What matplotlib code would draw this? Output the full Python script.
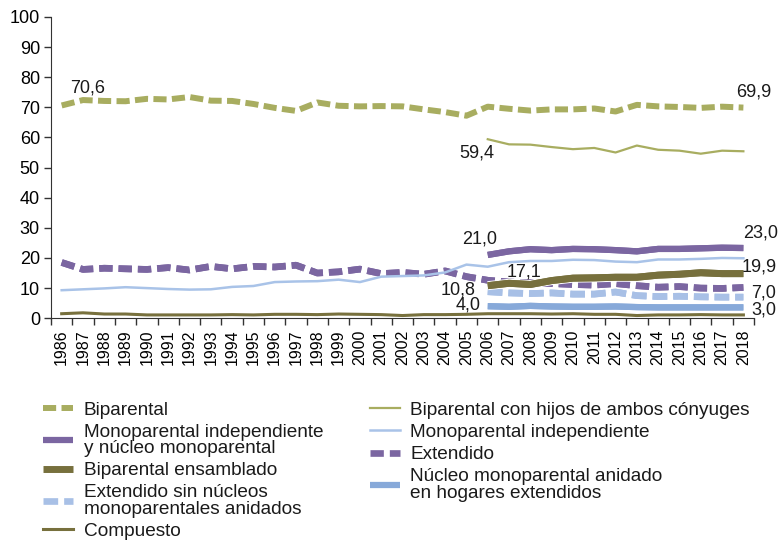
import matplotlib.pyplot as plt
import matplotlib.patheffects as pe
import numpy as np

plt.rcParams['font.family'] = ['Liberation Sans', 'DejaVu Sans']

# Data (percent of households)
years = list(range(1986, 2019))
na = [np.nan] * 20  # series that start in 2006

biparental = [70.6, 72.4, 72.1, 72.0, 72.8, 72.6, 73.4, 72.2, 72.1, 71.1,
              69.8, 68.8, 71.6, 70.5, 70.3, 70.4, 70.3, 69.3, 68.4, 67.2,
              70.2, 69.5, 68.9, 69.3, 69.3, 69.6, 68.6, 70.8, 70.3, 70.1,
              69.8, 70.2, 69.9]
con_hijos = na + [59.4, 57.7, 57.6, 56.8, 56.1, 56.5, 55.0, 57.3, 55.9, 55.6,
                  54.6, 55.6, 55.4]
mono_nucleo = na + [21.0, 22.2, 22.9, 22.6, 23.0, 22.9, 22.6, 22.2, 23.0, 23.0,
                    23.2, 23.4, 23.3]
mono_indep = [9.3, 9.6, 9.9, 10.3, 10.0, 9.7, 9.5, 9.6, 10.4, 10.7,
              12.0, 12.2, 12.3, 12.8, 12.0, 13.8, 14.0, 14.2, 15.2, 17.8,
              17.1, 18.6, 19.0, 19.0, 19.4, 19.3, 18.8, 18.6, 19.5, 19.5,
              19.7, 20.0, 19.9]
ensamblado = na + [10.8, 11.6, 11.2, 12.5, 13.3, 13.4, 13.6, 13.6, 14.3, 14.6,
                   15.1, 14.8, 14.8]
extendido = [18.5, 16.2, 16.6, 16.4, 16.2, 16.8, 16.0, 17.2, 16.4, 17.2,
             17.0, 17.6, 15.0, 15.4, 16.3, 14.8, 15.2, 14.6, 15.7, 13.8,
             12.6, 12.0, 11.8, 11.5, 11.2, 11.0, 11.5, 10.8, 10.3, 10.5,
             10.0, 9.9, 10.2]
ext_sin_nucleos = na + [8.8, 8.4, 8.2, 8.4, 8.0, 8.0, 8.7, 7.5, 7.2, 7.3,
                        7.1, 7.0, 7.0]
nucleo_anidado = na + [4.0, 3.8, 4.1, 3.9, 3.8, 3.8, 3.9, 3.7, 3.6, 3.6,
                       3.6, 3.6, 3.6]
compuesto = [1.5, 1.8, 1.4, 1.4, 1.1, 1.1, 1.1, 1.1, 1.2, 1.1,
             1.3, 1.3, 1.2, 1.4, 1.3, 1.2, 0.9, 1.2, 1.2, 1.3,
             1.5, 1.5, 1.5, 1.4, 1.5, 1.3, 1.3, 0.9, 1.1, 1.1,
             1.2, 1.1, 1.1]

# value labels: (text, x index, y)
labels = [('70,6', 1.2, 76.5), ('69,9', 32.5, 75.0), ('59,4', 19.5, 54.7),
          ('21,0', 19.6, 26.2), ('23,0', 32.8, 28.2), ('17,1', 21.7, 15.3),
          ('19,9', 32.75, 17.0), ('10,8', 18.6, 9.3), ('4,0', 19.1, 4.3),
          ('7,0', 32.95, 8.3), ('3,0', 32.95, 2.7)]

olive_l = '#a8ad60'
purple = '#7b66a1'
olive_d = '#77703d'
blue_l = '#a9c3e8'
blue_m = '#87a9d9'

x = np.arange(len(years))
fig = plt.figure(figsize=(7.78, 5.44), dpi=100)
ax = fig.add_axes([0.0656, 0.415, 0.9036, 0.554])

dash = (0, (2.2, 0.9))

l_bip, = ax.plot(x, biparental, color=olive_l, lw=4.3, ls=dash, dash_capstyle='butt')
l_mn, = ax.plot(x, mono_nucleo, color=purple, lw=4.5, solid_capstyle='butt', zorder=5)
l_ens, = ax.plot(x, ensamblado, color=olive_d, lw=5.0, solid_capstyle='butt', zorder=4)
l_esn, = ax.plot(x, ext_sin_nucleos, color='#a8c0e6', lw=4.8, ls=dash, dash_capstyle='butt')
l_comp, = ax.plot(x, compuesto, color=olive_d, lw=2.2, zorder=3)
l_ch, = ax.plot(x, con_hijos, color=olive_l, lw=1.6)
l_mi, = ax.plot(x, mono_indep, color=blue_l, lw=1.8, zorder=4)
l_ext, = ax.plot(x, extendido, color=purple, lw=4.8, ls=(0, (2.0, 0.9)), dash_capstyle='butt')
l_na, = ax.plot(x, nucleo_anidado, color=blue_m, lw=4.5, solid_capstyle='butt', zorder=3)

for ln in [l_mn, l_ens, l_na, l_esn, l_ext]:
    ln.set_path_effects([pe.withStroke(linewidth=ln.get_linewidth() + 1.5, foreground='white'), pe.Normal()])

for txt, xi, yv in labels:
    ax.text(xi, yv, txt, ha='center', va='center', fontsize=13, color='#1a1a1a',
            clip_on=False, zorder=10)

ax.set_xlim(-0.5, len(years) - 0.5)
ax.set_ylim(0, 100)
ax.set_yticks(range(0, 101, 10))
ax.tick_params(axis='y', labelsize=13, length=5, width=1, color='#333333', pad=3)
ax.set_xticks(np.arange(-0.5, len(years)), labels=[''] * (len(years) + 1))
ax.set_xticks(x, labels=[str(y) for y in years], minor=True)
ax.tick_params(axis='x', which='major', length=5, width=1, color='#333333')
ax.tick_params(axis='x', which='minor', length=0, labelsize=11.5, rotation=90, pad=8)
for s in ['top', 'right']:
    ax.spines[s].set_visible(False)
for s in ['left', 'bottom']:
    ax.spines[s].set_color('#333333')

leg_kw = dict(frameon=False, fontsize=13.7, handlelength=1.6, handletextpad=0.55,
              labelspacing=0.26, borderpad=0, borderaxespad=0, loc='upper left')
leg1 = fig.legend([l_bip, l_mn, l_ens, l_esn, l_comp],
                  ['Biparental', 'Monoparental independiente\ny núcleo monoparental',
                   'Biparental ensamblado',
                   'Extendido sin núcleos\nmonoparentales anidados', 'Compuesto'],
                  bbox_to_anchor=(0.055, 0.262), **leg_kw)
leg2 = fig.legend([l_ch, l_mi, l_ext, l_na],
                  ['Biparental con hijos de ambos cónyuges', 'Monoparental independiente',
                   'Extendido', 'Núcleo monoparental anidado\nen hogares extendidos'],
                  bbox_to_anchor=(0.475, 0.262), **leg_kw)
for lg in (leg1, leg2):
    for t in lg.get_texts():
        t.set_linespacing(0.95)
        t.set_color('#1a1a1a')
    for h in lg.legend_handles:
        h.set_path_effects([])

fig.savefig('out.png', dpi=100)
